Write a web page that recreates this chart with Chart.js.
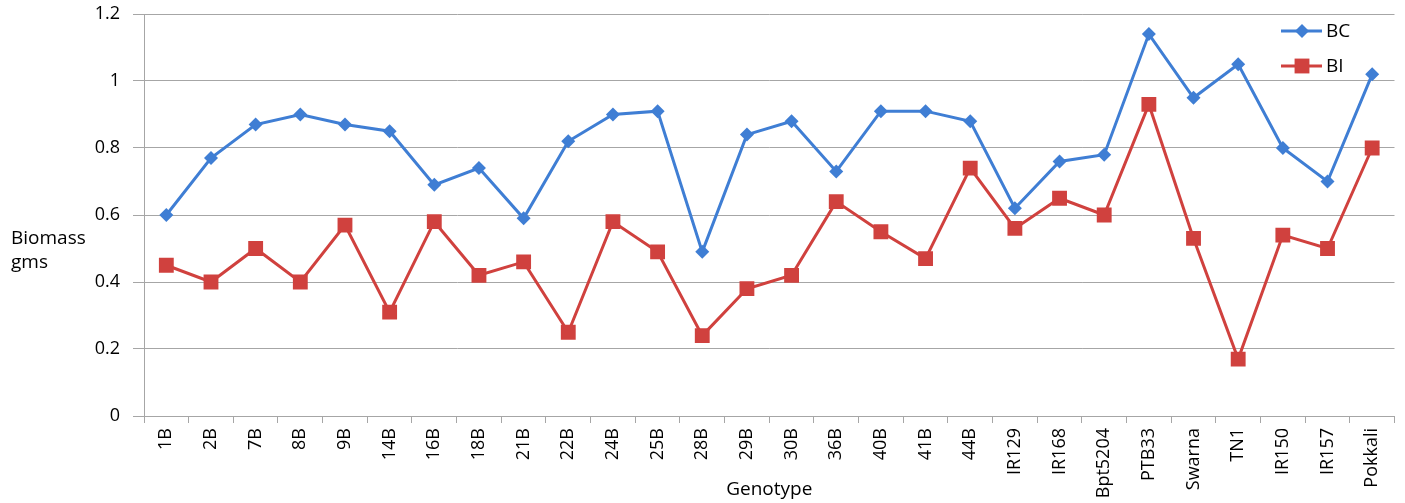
<!DOCTYPE html>
<html>
<head>
<meta charset="utf-8">
<script src="https://cdn.jsdelivr.net/npm/chart.js@4/dist/chart.umd.min.js"></script>
<style>
html,body{margin:0;padding:0;background:#fff;}
#wrap{position:relative;width:1405px;height:503px;}
</style>
</head>
<body>
<div id="wrap"><canvas id="c" width="1405" height="503"></canvas></div>
<script>
const categories = ['1B','2B','7B','8B','9B','14B','16B','18B','21B','22B','24B','25B','28B','29B','30B','36B','40B','41B','44B','IR129','IR168','Bpt5204','PTB33','Swarna','TN1','IR150','IR157','Pokkali'];
const bcValues = [0.60,0.77,0.87,0.90,0.87,0.85,0.69,0.74,0.59,0.82,0.90,0.91,0.49,0.84,0.88,0.73,0.91,0.91,0.88,0.62,0.76,0.78,1.14,0.95,1.05,0.80,0.70,1.02];
const biValues = [0.45,0.40,0.50,0.40,0.57,0.31,0.58,0.42,0.46,0.25,0.58,0.49,0.24,0.38,0.42,0.64,0.55,0.47,0.74,0.56,0.65,0.60,0.93,0.53,0.17,0.54,0.50,0.80];
const yTickValues = [0,0.2,0.4,0.6,0.8,1,1.2];
const yTitleLines = ['Biomass','gms'];
const xTitle = 'Genotype';
const seriesNames = ['BC','BI'];

const BLUE = '#3F7ED4';
const RED = '#D0413E';
const FONT = "'Open Sans', 'DejaVu Sans', sans-serif";

const extrasPlugin = {
  id: 'extras',
  afterDraw(chart) {
    const ctx = chart.ctx;
    ctx.save();
    ctx.fillStyle = '#000';
    ctx.font = '19px ' + FONT;
    ctx.textAlign = 'left';
    ctx.textBaseline = 'middle';
    ctx.fillText(yTitleLines[0], 11, 239);
    ctx.fillText(yTitleLines[1], 11, 263);
    const items = [
      {name: seriesNames[0], color: BLUE, style: 'rectRot', r: 7, y: 31},
      {name: seriesNames[1], color: RED, style: 'rect', r: 10.5, y: 66}
    ];
    items.forEach(it => {
      ctx.strokeStyle = it.color;
      ctx.lineWidth = 3;
      ctx.beginPath();
      ctx.moveTo(1281, it.y);
      ctx.lineTo(1322, it.y);
      ctx.stroke();
      ctx.fillStyle = it.color;
      Chart.helpers.drawPoint(ctx, {pointStyle: it.style, radius: it.r, borderWidth: 0}, 1302, it.y);
      ctx.fillStyle = '#000';
      ctx.font = '19px ' + FONT;
      ctx.textAlign = 'left';
      ctx.textBaseline = 'middle';
      ctx.fillText(it.name, 1326, it.y + 1);
    });
    ctx.restore();
  }
};

new Chart(document.getElementById('c'), {
  type: 'line',
  data: {
    labels: categories,
    datasets: [
      {
        label: seriesNames[0], data: bcValues,
        borderColor: BLUE, backgroundColor: BLUE, borderWidth: 3,
        pointStyle: 'rectRot', pointRadius: 7, pointBorderWidth: 0, pointBackgroundColor: BLUE,
        tension: 0
      },
      {
        label: seriesNames[1], data: biValues,
        borderColor: RED, backgroundColor: RED, borderWidth: 3,
        pointStyle: 'rect', pointRadius: 10.5, pointBorderWidth: 0, pointBackgroundColor: RED,
        tension: 0
      }
    ]
  },
  options: {
    responsive: false,
    animation: false,
    events: [],
    layout: {padding: {left: 0, right: 10, top: 0, bottom: 0}},
    plugins: {legend: {display: false}, tooltip: {enabled: false}},
    scales: {
      x: {
        type: 'category',
        offset: true,
        grid: {offset: true, drawOnChartArea: false, drawTicks: true, tickLength: 7, color: '#a6a6a6', lineWidth: 1},
        border: {display: true, color: '#a6a6a6', width: 1},
        ticks: {
          color: '#000', font: {family: FONT, size: 18},
          maxRotation: 90, minRotation: 90, autoSkip: false, padding: 5
        },
        title: {display: true, text: xTitle, color: '#000', font: {family: FONT, size: 19}, padding: {top: 0, bottom: 2}},
        afterFit(scale) { scale.height = 87; scale.paddingLeft = 0; scale.paddingRight = 0; }
      },
      y: {
        min: 0, max: 1.2,
        afterBuildTicks(scale) { scale.ticks = yTickValues.map(v => ({value: v})); },
        grid: {color: '#a6a6a6', lineWidth: 1, drawTicks: true, tickLength: 11},
        border: {display: true, color: '#a6a6a6', width: 1},
        ticks: {
          color: '#000', font: {family: FONT, size: 18}, padding: 13,
          callback: (v) => String(v)
        },
        afterFit(scale) { scale.width = 144; scale.paddingTop = 14; scale.paddingBottom = 0; }
      }
    }
  },
  plugins: [extrasPlugin]
});
</script>
</body>
</html>
